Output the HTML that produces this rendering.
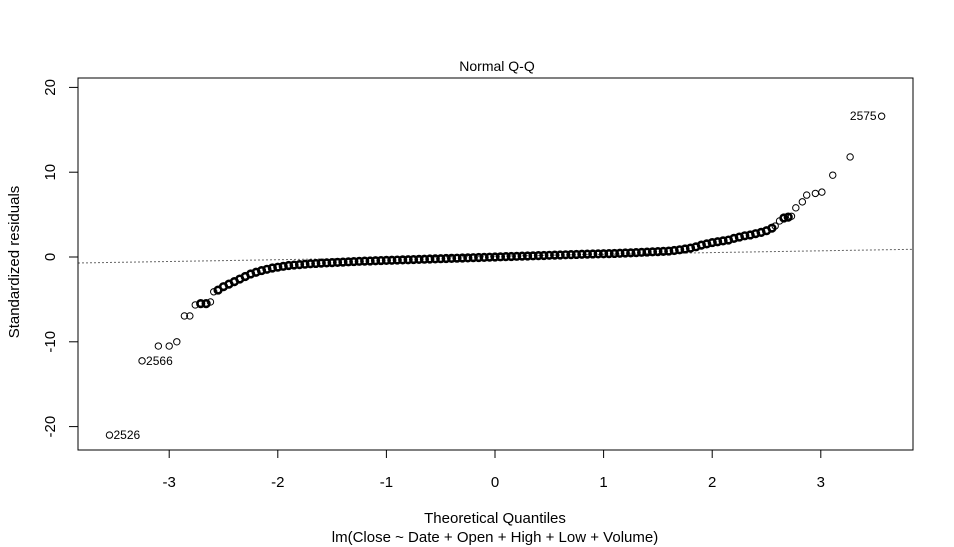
<!DOCTYPE html>
<html><head><meta charset="utf-8"><style>
html,body{margin:0;padding:0;background:#fff;}
svg{display:block;font-family:"Liberation Sans",Arial,sans-serif;}
</style></head><body>
<svg id="chart" width="954" height="547" viewBox="0 0 954 547">
<rect x="0" y="0" width="954" height="547" fill="#fff"/>
<text x="497" y="71" font-size="14" text-anchor="middle">Normal Q-Q</text>
<text x="495" y="523" font-size="15" text-anchor="middle">Theoretical Quantiles</text>
<text x="495" y="542" font-size="15" text-anchor="middle">lm(Close ~ Date + Open + High + Low + Volume)</text>
<text transform="translate(19,262) rotate(-90)" font-size="15" text-anchor="middle">Standardized residuals</text>
<g id="axes"></g>
<g id="refline"></g>
<g id="points"></g>
<rect x="78" y="78" width="835" height="372" fill="none" stroke="#000" stroke-width="1"/>
</svg>
<script>
const xTicks = [-3, -2, -1, 0, 1, 2, 3];
const yTicks = [-20, -10, 0, 10, 20];
const qx = [-3.55,-3.25,-3.10,-3.00,-2.93,-2.86,-2.81,-2.76,-2.71,-2.66,-2.62,-2.59,
-2.55,-2.5,-2.45,-2.4,-2.35,-2.3,-2.25,-2.2,-2.15,-2.1,-2.05,-2.0,-1.95,-1.9,-1.85,-1.8,-1.75,-1.7,-1.65,-1.6,
-1.55,-1.5,-1.45,-1.4,-1.35,-1.3,-1.25,-1.2,-1.15,-1.1,-1.05,-1.0,-0.95,-0.9,-0.85,-0.8,-0.75,-0.7,-0.65,-0.6,-0.55,-0.5,-0.45,-0.4,-0.35,-0.3,-0.25,-0.2,-0.15,-0.1,-0.05,0,
0.05,0.1,0.15,0.2,0.25,0.3,0.35,0.4,0.45,0.5,0.55,0.6,0.65,0.7,0.75,0.8,0.85,0.9,0.95,1.0,1.05,1.1,1.15,1.2,1.25,1.3,1.35,1.4,1.45,1.5,1.55,
1.6,1.65,1.7,1.75,1.8,1.85,1.9,1.95,2.0,2.05,2.1,2.15,2.2,2.25,2.3,2.35,2.4,2.45,2.5,2.55,
2.58,2.62,2.66,2.70,2.73,2.77,2.83,2.87,2.95,3.01,3.11,3.27,3.56];
const qy = [-21.0,-12.25,-10.5,-10.5,-10.0,-6.95,-6.95,-5.65,-5.5,-5.5,-5.3,-4.1,
-3.9,-3.5,-3.2,-2.9,-2.6,-2.3,-2.0,-1.8,-1.6,-1.45,-1.3,-1.2,-1.1,-1.0,-0.95,-0.9,-0.85,-0.8,-0.76,-0.72,
-0.69,-0.66,-0.63,-0.6,-0.57,-0.54,-0.51,-0.49,-0.47,-0.44,-0.42,-0.4,-0.38,-0.36,-0.34,-0.32,-0.3,-0.28,-0.26,-0.24,-0.22,-0.2,-0.18,-0.16,-0.14,-0.12,-0.1,-0.08,-0.06,-0.04,-0.02,0,
0.02,0.04,0.06,0.08,0.1,0.12,0.14,0.16,0.18,0.2,0.22,0.24,0.26,0.28,0.3,0.32,0.34,0.36,0.37,0.38,0.4,0.42,0.44,0.47,0.49,0.52,0.55,0.58,0.61,0.63,0.66,
0.7,0.77,0.85,0.95,1.05,1.2,1.4,1.55,1.7,1.8,1.9,2.0,2.2,2.35,2.5,2.6,2.75,2.9,3.1,3.4,
3.65,4.25,4.6,4.7,4.8,5.8,6.5,7.3,7.5,7.65,9.65,11.8,16.6];
const pointLabels = [{i:0,t:"2526",side:"right"},{i:1,t:"2566",side:"right"},{i:-1,t:"2575",side:"left"}];
const refIntercept = 0.1, refSlope = 0.21;

const NS = "http://www.w3.org/2000/svg";
const X0 = 78, X1 = 913, Y0 = 78, Y1 = 450;
function sx(v){ return 495 + 108.6 * v; }
function sy(v){ return 257 - 8.48 * v; }
function mk(tag, attrs, parent){ const e = document.createElementNS(NS, tag); for (const k in attrs) e.setAttribute(k, attrs[k]); parent.appendChild(e); return e; }

const axes = document.getElementById('axes');
mk('line',{x1:sx(xTicks[0]),x2:sx(xTicks[xTicks.length-1]),y1:Y1,y2:Y1,stroke:'#000'},axes);
xTicks.forEach(t => {
  const l = mk('line',{x1:sx(t),x2:sx(t),y1:Y1,y2:Y1+8,stroke:'#000'},axes);
  
  
  const tx = mk('text',{x:sx(t),y:487,'font-size':15,'text-anchor':'middle'},axes);
  tx.textContent = t;
  
  
});
yTicks.forEach(t => {
  const l = mk('line',{x1:X0-9,x2:X0,y1:sy(t),y2:sy(t),stroke:'#000'},axes);
  
  
  const tx = mk('text',{transform:`translate(55,${sy(t)}) rotate(-90)`,'font-size':15,'text-anchor':'middle'},axes);
  tx.textContent = t;
  
  
});

const rl = document.getElementById('refline');
const xa = (X0 - 495) / 108.6, xb = (X1 - 495) / 108.6;
const ln = mk('line',{x1:X0,x2:X1,y1:sy(refIntercept+refSlope*xa),y2:sy(refIntercept+refSlope*xb),stroke:'#666','stroke-dasharray':'2,2','stroke-width':1},rl);



const pts = document.getElementById('points');
qx.forEach((x, i) => {
  const px = sx(x), py = sy(qy[i]);
  let closeCount = 0;
  [i-1, i+1].forEach(j => {
    if (j >= 0 && j < qx.length) {
      const d = Math.hypot(sx(qx[j]) - px, sy(qy[j]) - py);
      if (d < 6.5) closeCount++;
    }
  });
  const dense = closeCount === 2;
  const c = mk('circle',{cx:px,cy:py,r:dense?3.3:3.2,fill:'none',stroke:'#000','stroke-width':dense?2.6:1},pts);
  
  
});
pointLabels.forEach(p => {
  const idx = p.i < 0 ? qx.length + p.i : p.i;
  const x = sx(qx[idx]), y = sy(qy[idx]);
  const t = mk('text',{x: p.side==='right' ? x+4 : x-5, y: y+4,'font-size':12,'text-anchor': p.side==='right'?'start':'end'},pts);
  t.textContent = p.t;
  
  
});
</script>
</body></html>
